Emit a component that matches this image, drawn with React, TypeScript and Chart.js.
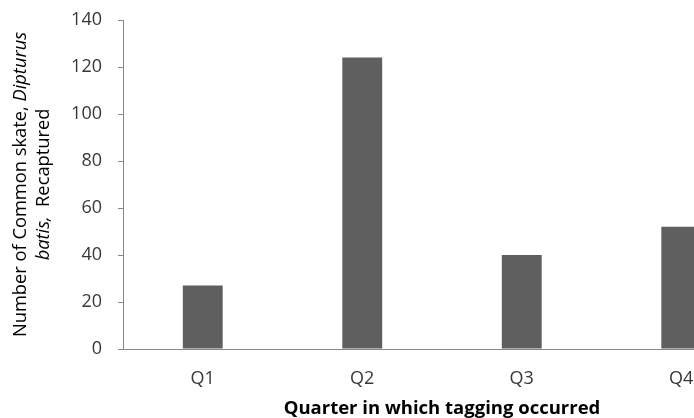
import React, { useEffect, useRef } from "react";
import { Chart, registerables } from "chart.js";

Chart.register(...registerables);

const categories = ["Q1", "Q2", "Q3", "Q4"];
const recaptured = [27, 124, 40, 52];
const yTicks = [0, 20, 40, 60, 80, 100, 120, 140];
const xTitle = "Quarter in which tagging occurred";
const yTitleLine1 = [
  { text: "Number of Common skate, ", italic: false },
  { text: "Dipturus", italic: true },
];
const yTitleLine2 = [
  { text: "batis,", italic: true },
  { text: "  Recaptured", italic: false },
];

const FONT = "'Open Sans', sans-serif";

const yTitlePlugin = {
  id: "yTitleMixed",
  afterDraw(chart: any) {
    const ctx = chart.ctx;
    const area = chart.chartArea;
    const cy = (area.top + area.bottom) / 2;
    const drawLine = (segs: { text: string; italic: boolean }[], x: number) => {
      ctx.save();
      ctx.translate(x, cy);
      ctx.rotate(-Math.PI / 2);
      ctx.textBaseline = "middle";
      ctx.textAlign = "left";
      ctx.fillStyle = "#000000";
      let total = 0;
      const widths = segs.map((s) => {
        ctx.font = `${s.italic ? "italic " : ""}18.3px ${FONT}`;
        const w = ctx.measureText(s.text).width;
        total += w;
        return w;
      });
      let cx = -total / 2;
      segs.forEach((s, i) => {
        ctx.font = `${s.italic ? "italic " : ""}18.3px ${FONT}`;
        ctx.fillText(s.text, cx, 0);
        cx += widths[i];
      });
      ctx.restore();
    };
    drawLine(yTitleLine1, 21);
    drawLine(yTitleLine2, 44);
  },
};

export default function App() {
  const ref = useRef<HTMLCanvasElement | null>(null);
  useEffect(() => {
    if (!ref.current) return;
    const chart = new Chart(ref.current, {
      type: "bar",
      data: {
        labels: categories,
        datasets: [
          {
            data: recaptured,
            backgroundColor: "#5f5f5f",
            barPercentage: 0.5,
            categoryPercentage: 0.5,
          },
        ],
      },
      options: {
        animation: false,
        responsive: false,
        layout: { padding: { top: 20, right: 19, left: 0, bottom: 0 } },
        plugins: { legend: { display: false }, tooltip: { enabled: false } },
        scales: {
          x: {
            grid: { display: false },
            border: { display: true, color: "#888888", width: 1 },
            ticks: { color: "#383838", font: { family: FONT, size: 18 }, padding: 11 },
            title: {
              display: true,
              text: xTitle,
              color: "#000000",
              font: { family: FONT, size: 18.5, weight: "bold" },
              padding: { top: 6, bottom: 0 },
            },
            afterFit(scale: any) {
              scale.height = 71;
              scale.paddingLeft = 0;
              scale.paddingRight = 0;
            },
          },
          y: {
            min: 0,
            max: 140,
            afterBuildTicks(scale: any) {
              scale.ticks = yTicks.map((v) => ({ value: v }));
            },
            grid: {
              display: true,
              drawOnChartArea: false,
              drawTicks: true,
              tickLength: 5,
              color: "#888888",
            },
            border: { display: true, color: "#888888", width: 1 },
            ticks: { color: "#383838", font: { family: FONT, size: 18 }, padding: 16 },
            afterFit(scale: any) {
              scale.width = 123;
              scale.paddingTop = 0;
              scale.paddingBottom = 0;
            },
          },
        },
      },
      plugins: [yTitlePlugin],
    });
    return () => chart.destroy();
  }, []);
  return (
    <div
      style={{
        position: "fixed",
        left: 0,
        top: 0,
        width: 694,
        height: 418,
        overflow: "hidden",
        background: "#ffffff",
      }}
    >
      <canvas ref={ref} width={780} height={420} style={{ display: "block" }} />
    </div>
  );
}
